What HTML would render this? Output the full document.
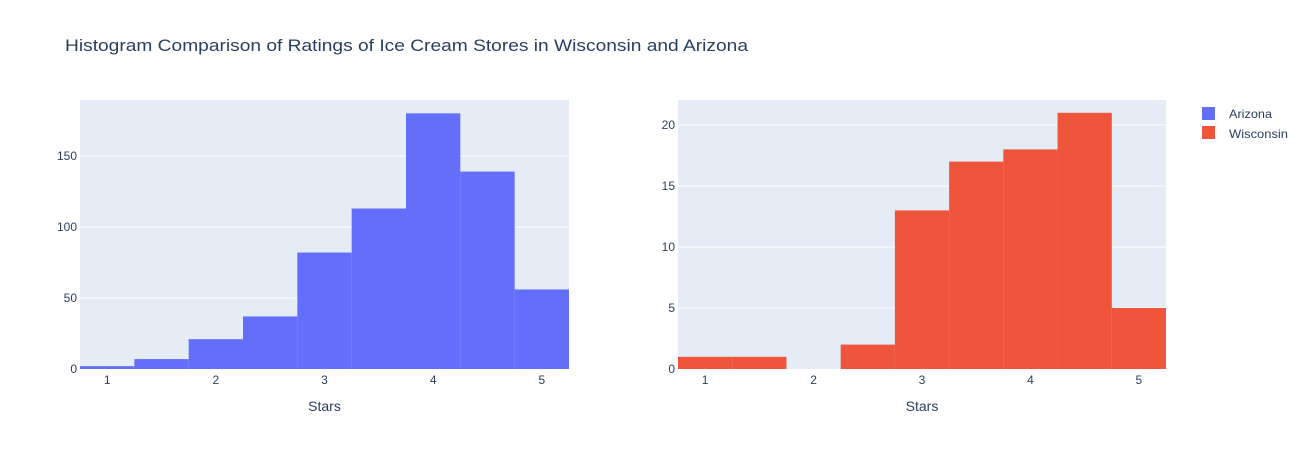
<!DOCTYPE html>
<html><head><meta charset="utf-8"><style>
body{margin:0;background:#fff;font-family:"Liberation Sans",sans-serif;}
svg text{font-family:"Liberation Sans",sans-serif;}
</style></head><body>
<svg id="chart" width="1306" height="450">
<text x="65" y="51" font-size="17" fill="#2a3f5f" textLength="683" lengthAdjust="spacingAndGlyphs">Histogram Comparison of Ratings of Ice Cream Stores in Wisconsin and Arizona</text>
<g id="left"></g>
<g id="right"></g>
<g>
<g><rect x="1202" y="107" width="13" height="13" fill="#636efa"/><text x="1229" y="118" font-size="12" fill="#2a3f5f" textLength="43" lengthAdjust="spacingAndGlyphs">Arizona</text></g>
<g><rect x="1202" y="126" width="13" height="13" fill="#ef553b"/><text x="1229" y="138" font-size="12" fill="#2a3f5f" textLength="59" lengthAdjust="spacingAndGlyphs">Wisconsin</text></g>
</g>
</svg>
<script>
const binStarts=[0.75,1.25,1.75,2.25,2.75,3.25,3.75,4.25,4.75];
const arizonaCounts=[2,7,21,37,82,113,180,139,56];
const wisconsinCounts=[1,1,0,2,13,17,18,21,5];
const xTicks=[1,2,3,4,5];
const arizonaYTicks=[0,50,100,150];
const wisconsinYTicks=[0,5,10,15,20];
const NS="http://www.w3.org/2000/svg";
function mk(tag,attrs,parent){const e=document.createElementNS(NS,tag);for(const k in attrs)e.setAttribute(k,attrs[k]);parent.appendChild(e);return e;}
function draw(g,x0,x1,y0,y1,ymax,counts,yticks,color,prefix){
  const xs=v=>x0+(v-0.75)/4.5*(x1-x0);
  const ys=v=>y1-v/ymax*(y1-y0);
  const bg=mk('rect',{x:x0,y:y0,width:x1-x0,height:y1-y0,fill:'#e5ecf6'},g);
  
  
  yticks.forEach(t=>{
    if(t>0){const l=mk('line',{x1:x0,x2:x1,y1:ys(t),y2:ys(t),stroke:'#fff','stroke-width':1},g);
    
    }
    const tx=mk('text',{x:x0-3,y:ys(t)+4,'font-size':12,fill:'#2a3f5f','text-anchor':'end'},g);tx.textContent=t;
    
    
  });
  counts.forEach((c,i)=>{
    if(c<=0)return;
    const r=mk('rect',{x:xs(binStarts[i]),y:ys(c),width:xs(binStarts[i]+0.5)-xs(binStarts[i]),height:ys(0)-ys(c),fill:color},g);
    
    
  });
  xTicks.forEach(t=>{
    const tx=mk('text',{x:xs(t),y:y1+15,'font-size':12,fill:'#2a3f5f','text-anchor':'middle'},g);tx.textContent=t;
    
    
  });
  const ti=mk('text',{x:(x0+x1)/2,y:411,'font-size':14,fill:'#2a3f5f','text-anchor':'middle'},g);ti.textContent='Stars';
  
  
}
draw(document.getElementById('left'),80,569,100,369,189.4,arizonaCounts,arizonaYTicks,'#636efa','arizona');
draw(document.getElementById('right'),678,1166,100,369,22.05,wisconsinCounts,wisconsinYTicks,'#ef553b','wisconsin');
</script>
</body></html>
